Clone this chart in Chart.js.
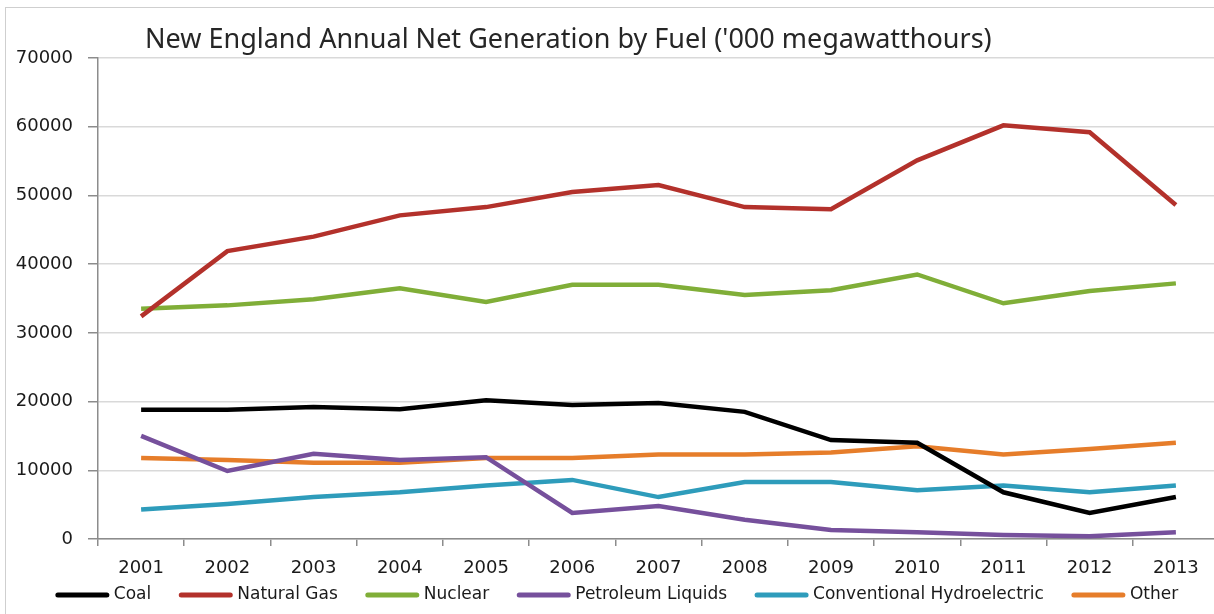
<!DOCTYPE html>
<html>
<head>
<meta charset="utf-8">
<script src="https://cdn.jsdelivr.net/npm/chart.js@4"></script>
<style>
  html, body { margin: 0; padding: 0; background: #fff; overflow: hidden; }
  #wrap { position: relative; width: 1220px; height: 614px; }
</style>
</head>
<body>
<div id="wrap"><canvas id="genChart"></canvas></div>
<script>
// данные графика
const years = ['2001', '2002', '2003', '2004', '2005', '2006', '2007', '2008', '2009', '2010', '2011', '2012', '2013'];
const coal = [18800, 18800, 19200, 18900, 20200, 19500, 19800, 18500, 14400, 14000, 6800, 3800, 6100];
const naturalGas = [32400, 41900, 44000, 47100, 48300, 50500, 51500, 48300, 48000, 55100, 60200, 59200, 48600];
const nuclear = [33500, 34000, 34900, 36500, 34500, 37000, 37000, 35500, 36200, 38500, 34300, 36100, 37200];
const petroleum = [15000, 9900, 12400, 11500, 11900, 3800, 4800, 2800, 1300, 1000, 600, 400, 1000];
const hydro = [4300, 5100, 6100, 6800, 7800, 8600, 6100, 8300, 8300, 7100, 7800, 6800, 7800];
const other = [11800, 11500, 11100, 11100, 11800, 11800, 12300, 12300, 12600, 13500, 12300, 13100, 14000];
const yTicks = [0, 10000, 20000, 30000, 40000, 50000, 60000, 70000];

const titleText = "New England Annual Net Generation by Fuel ('000 megawatthours)";
const baseFont = '"DejaVu Sans", sans-serif';

function series(label, data, color) {
    return {
        label: label,
        data: data,
        borderColor: color,
        backgroundColor: color,
        borderWidth: 4.5,
        pointRadius: 0,
        tension: 0,
        fill: false
    };
}

// рамка и заголовок
const framePlugin = {
    id: 'frame',
    beforeDraw(chart) {
        const ctx = chart.ctx;
        ctx.save();
        ctx.strokeStyle = '#cfcfcf';
        ctx.lineWidth = 1;
        ctx.strokeRect(5.5, 7.5, chart.width + 20, chart.height + 20);
        ctx.restore();
    },
    afterDraw(chart) {
        const ctx = chart.ctx;
        ctx.save();
        ctx.font = '27px "Noto Sans", "Open Sans", sans-serif';
        ctx.fillStyle = '#262626';
        ctx.textBaseline = 'alphabetic';
        ctx.textAlign = 'left';
        ctx.fillText(titleText, chart.chartArea.left + 47, 48);
        ctx.restore();
    }
};

// легенда внизу с одинаковыми промежутками
const legendPlugin = {
    id: 'bottomLegend',
    afterDraw(chart) {
        const ctx = chart.ctx;
        const sampleW = 53, textGap = 5, itemGap = 28;
        const y = 595;
        ctx.save();
        ctx.font = '17px ' + baseFont;
        const items = chart.data.datasets.map(ds => ({
            text: ds.label,
            color: ds.borderColor,
            w: sampleW + textGap + ctx.measureText(ds.label).width
        }));
        const total = items.reduce((s, it) => s + it.w, 0) + itemGap * (items.length - 1);
        let x = chart.width / 2 + 7 - total / 2;
        items.forEach(it => {
            ctx.strokeStyle = it.color;
            ctx.lineWidth = 5;
            ctx.lineCap = 'round';
            ctx.beginPath();
            ctx.moveTo(x + 2, y);
            ctx.lineTo(x + sampleW - 2, y);
            ctx.stroke();
            ctx.fillStyle = '#1a1a1a';
            ctx.textBaseline = 'middle';
            ctx.fillText(it.text, x + sampleW + textGap, y);
            x += it.w + itemGap;
        });
        ctx.restore();
    }
};

const ctx = document.getElementById('genChart');
new Chart(ctx, {
    type: 'line',
    data: {
        labels: years,
        datasets: [
            series('Coal', coal, '#000000'),
            series('Natural Gas', naturalGas, '#b3312b'),
            series('Nuclear', nuclear, '#80ae38'),
            series('Petroleum Liquids', petroleum, '#76509c'),
            series('Conventional Hydroelectric', hydro, '#2e9cbb'),
            series('Other', other, '#e67d2a')
        ]
    },
    options: {
        responsive: true,
        maintainAspectRatio: false,
        animation: false,
        layout: { padding: { top: 58, left: 0, right: 1, bottom: 35 } },
        plugins: {
            title: { display: false },
            tooltip: { enabled: false },
            legend: { display: false }
        },
        scales: {
            x: {
                offset: true,
                afterFit(scale) { scale.height = 40; },
                grid: {
                    offset: true,
                    drawOnChartArea: false,
                    drawTicks: true,
                    tickLength: 7,
                    color: '#8c8c8c',
                    lineWidth: 1.5
                },
                border: { color: '#8c8c8c', width: 1.5 },
                ticks: {
                    color: '#1a1a1a',
                    padding: 12,
                    maxRotation: 0,
                    font: { family: baseFont, size: 18 }
                }
            },
            y: {
                min: 0,
                max: 70000,
                afterFit(scale) { scale.width = 98; },
                afterBuildTicks(scale) { scale.ticks = yTicks.map(v => ({ value: v })); },
                grid: {
                    color: '#d9d9d9',
                    lineWidth: 1.5,
                    tickLength: 10,
                    tickColor: '#8c8c8c'
                },
                border: { color: '#8c8c8c', width: 1.5 },
                ticks: {
                    color: '#1a1a1a',
                    padding: 15,
                    font: { family: baseFont, size: 18 },
                    callback: v => String(v)
                }
            }
        }
    },
    plugins: [framePlugin, legendPlugin]
});
</script>
</body>
</html>
